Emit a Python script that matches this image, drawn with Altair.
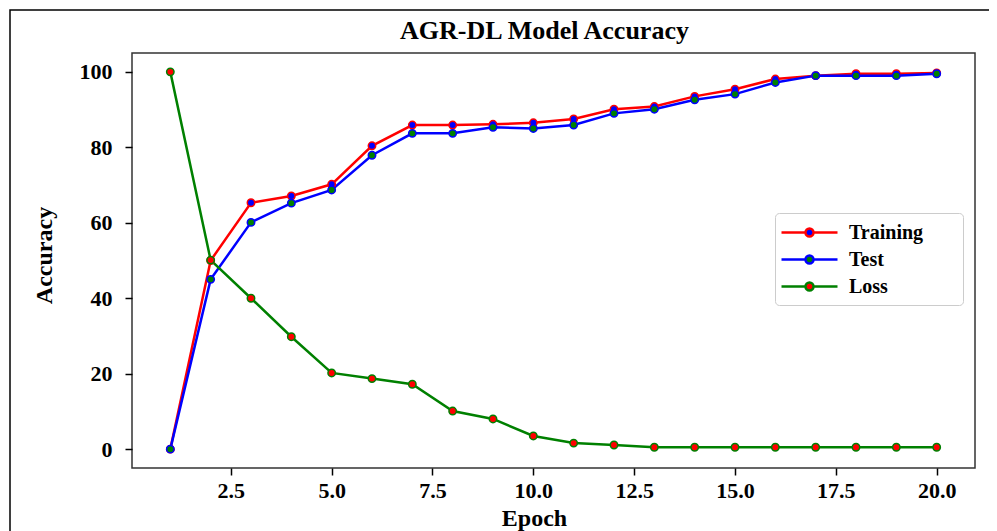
import altair as alt
import pandas as pd

epochs = list(range(1, 21))
training = [0, 50, 65.3, 67.1, 70.2, 80.4, 85.9, 85.9, 86.1, 86.5,
            87.5, 90.1, 90.8, 93.5, 95.4, 98.1, 99.0, 99.5, 99.5, 99.7]
test = [0, 45.0, 60.1, 65.2, 68.7, 77.9, 83.7, 83.7, 85.3, 85.0,
        85.9, 89.0, 90.1, 92.6, 94.1, 97.2, 99.0, 99.0, 99.0, 99.5]
loss = [100, 50.1, 40.0, 29.8, 20.2, 18.7, 17.2, 10.1, 8.0, 3.5,
        1.6, 1.1, 0.5, 0.5, 0.5, 0.5, 0.5, 0.5, 0.5, 0.5]

series_names = ["Training", "Test", "Loss"]
line_colors = ["#ff0000", "#0000ff", "#008000"]
marker_colors = ["#0000ff", "#008000", "#ff0000"]
x_ticks = [2.5, 5.0, 7.5, 10.0, 12.5, 15.0, 17.5, 20.0]
y_ticks = [0, 20, 40, 60, 80, 100]

rows = []
for name, vals in zip(series_names, [training, test, loss]):
    for e, v in zip(epochs, vals):
        rows.append({"Epoch": e, "Value": v, "Series": name})
df = pd.DataFrame(rows)

W, H = 843, 415
FONT = "Liberation Serif"

x_enc = alt.X("Epoch:Q", scale=alt.Scale(domain=[0.05, 20.95], nice=False, zero=False),
              axis=alt.Axis(values=x_ticks, format=".1f", title="Epoch",
                            titleX=402, titleY=38, labelPadding=5))
y_enc = alt.Y("Value:Q", scale=alt.Scale(domain=[-5, 105], nice=False, zero=False),
              axis=alt.Axis(values=y_ticks, title="Accuracy", titleX=-76, titleY=202,
                            labelPadding=13))

# line + marker legend glyph; the trailing move-to only widens the legend frame
sym_path = ("M-2.8,0H-0.4M0.4,0H2.8M0.4,0A0.4,0.4,0,1,1,-0.4,0"
            "A0.4,0.4,0,1,1,0.4,0ZM14.0,0")

legend = alt.Legend(
    orient="none", legendX=643, legendY=160, title=None,
    symbolType=sym_path, symbolSize=400, symbolStrokeWidth=2.5,
    symbolOffset=15, labelOffset=28, rowPadding=5,
    labelFont=FONT, labelFontSize=20, labelFontWeight="bold", labelColor="black",
    labelLimit=300,
    fillColor="white", strokeColor="#cccccc", cornerRadius=4, padding=8,
    symbolOpacity=1,
)

lines = alt.Chart(df).mark_line(strokeWidth=2.5).encode(
    x=x_enc, y=y_enc,
    color=alt.Color("Series:N", scale=alt.Scale(domain=series_names, range=line_colors),
                    legend=None),
)

points = alt.Chart(df).mark_circle(size=55, opacity=1, strokeWidth=1.5).encode(
    x=x_enc, y=y_enc,
    fill=alt.Fill("Series:N", scale=alt.Scale(domain=series_names, range=marker_colors),
                  legend=legend),
    stroke=alt.Stroke("Series:N", scale=alt.Scale(domain=series_names, range=line_colors),
                      legend=legend),
)

border = alt.Chart(pd.DataFrame({"a": [0]})).mark_rect(
    fill=None, stroke="black", strokeWidth=1.5, clip=False
).encode(x=alt.value(-122), x2=alt.value(W + 40), y=alt.value(-43), y2=alt.value(H + 80))

chart = alt.layer(border, lines, points).resolve_scale(
    color="independent", fill="independent", stroke="independent"
).properties(
    width=W, height=H,
    title=alt.TitleParams("AGR-DL Model Accuracy", font=FONT, fontSize=26,
                          fontWeight="bold", color="black", frame="group",
                          anchor="middle", offset=-35, dx=-9),
    autosize=alt.AutoSizeParams(type="none"),
    padding={"left": 124, "top": 45, "right": 14, "bottom": 63},
).configure_view(
    stroke="#333333", strokeWidth=1.5
).configure_axis(
    labelFont=FONT, labelFontSize=22, labelFontWeight="bold", labelColor="black",
    titleFont=FONT, titleFontSize=24, titleFontWeight="bold", titleColor="black",
    tickColor="black", tickSize=7, tickWidth=1.5, domain=False, grid=False,
)

chart.save("out.html", embed_options={"renderer": "svg", "actions": False})
